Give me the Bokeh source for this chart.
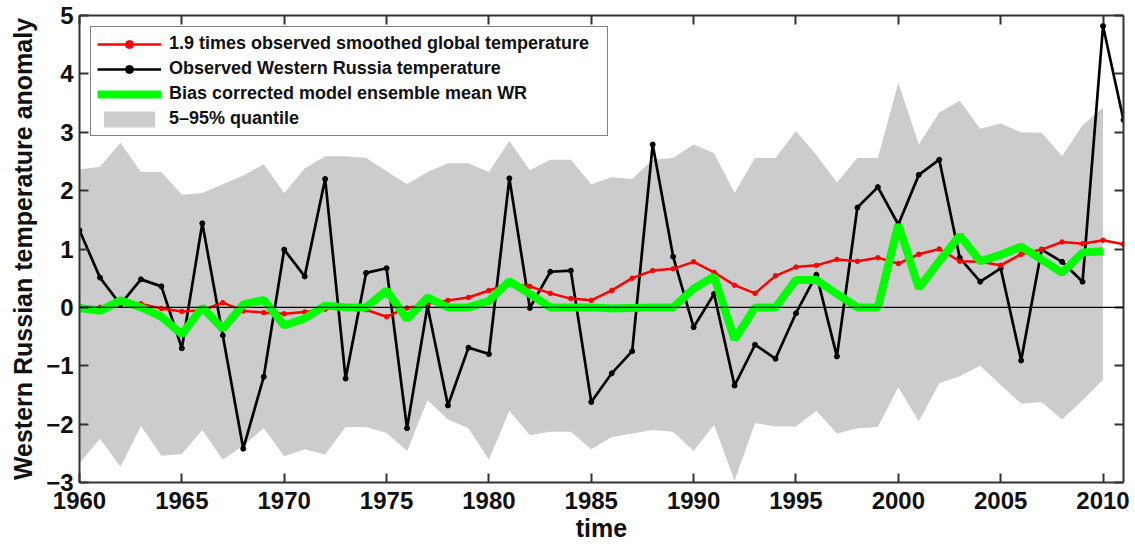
from bokeh.plotting import figure
from bokeh.models import (Range1d, LinearAxis, FixedTicker, Span, Legend, LegendItem,
                          ColumnDataSource, CustomJSTickFormatter)
from bokeh.embed import file_html
from bokeh.resources import INLINE

years_obs = list(range(1960, 2012))
years_mod = list(range(1960, 2011))

observed_wr = [1.32, 0.51, 0.05, 0.48, 0.36, -0.70, 1.44, -0.48, -2.42, -1.19,
               0.99, 0.53, 2.20, -1.22, 0.59, 0.67, -2.07, 0.02, -1.68, -0.69,
               -0.80, 2.21, -0.01, 0.61, 0.63, -1.62, -1.13, -0.75, 2.79, 0.87,
               -0.34, 0.23, -1.34, -0.64, -0.88, -0.10, 0.56, -0.84, 1.71, 2.06,
               1.42, 2.27, 2.53, 0.85, 0.44, 0.67, -0.91, 0.99, 0.78, 0.44,
               4.82, 3.21]

global_19 = [0.02, 0.00, 0.08, 0.06, -0.02, -0.07, -0.05, 0.08, -0.06, -0.09,
             -0.11, -0.08, -0.03, 0.00, -0.04, -0.16, -0.01, 0.06, 0.12, 0.17,
             0.29, 0.40, 0.36, 0.24, 0.15, 0.12, 0.29, 0.50, 0.63, 0.66,
             0.78, 0.60, 0.38, 0.24, 0.54, 0.69, 0.72, 0.82, 0.79, 0.85,
             0.75, 0.91, 1.00, 0.79, 0.78, 0.72, 0.91, 0.99, 1.12, 1.09,
             1.15, 1.08]

model_mean = [-0.01, -0.06, 0.12, 0.00, -0.16, -0.46, 0.00, -0.37, 0.05, 0.13,
              -0.31, -0.19, 0.03, 0.00, 0.00, 0.29, -0.20, 0.17, 0.00, 0.00,
              0.11, 0.45, 0.23, 0.00, 0.00, 0.00, -0.02, -0.01, 0.00, 0.00,
              0.32, 0.53, -0.55, 0.00, 0.00, 0.47, 0.47, 0.23, 0.00, 0.00,
              1.42, 0.33, 0.79, 1.23, 0.79, 0.90, 1.04, 0.82, 0.59, 0.94,
              0.96]

q95 = [2.36, 2.41, 2.82, 2.32, 2.32, 1.93, 1.96, 2.11, 2.26, 2.45,
       1.96, 2.38, 2.59, 2.59, 2.56, 2.33, 2.11, 2.32, 2.47, 2.47,
       2.32, 2.85, 2.35, 2.53, 2.53, 2.11, 2.23, 2.20, 2.53, 2.56,
       2.79, 2.64, 1.96, 2.56, 2.56, 3.02, 2.61, 2.14, 2.56, 2.56,
       3.85, 2.79, 3.34, 3.54, 3.06, 3.15, 3.00, 2.99, 2.59, 3.12,
       3.42]

q05 = [-2.67, -2.25, -2.73, -2.03, -2.54, -2.51, -2.10, -2.61, -2.37, -2.07,
       -2.55, -2.43, -2.52, -2.05, -2.05, -2.15, -2.46, -1.59, -1.92, -2.07,
       -2.61, -1.77, -2.19, -2.13, -2.13, -2.43, -2.22, -2.16, -2.10, -2.13,
       -2.46, -2.01, -2.97, -1.98, -2.04, -2.04, -1.77, -2.16, -2.07, -2.05,
       -1.37, -1.95, -1.30, -1.18, -1.00, -1.33, -1.65, -1.62, -1.92, -1.59,
       -1.24]

x_ticks = [1960, 1965, 1970, 1975, 1980, 1985, 1990, 1995, 2000, 2005, 2010]
y_ticks = [-3, -2, -1, 0, 1, 2, 3, 4, 5]

FONT = "Liberation Sans"
AX_COLOR = "#333333"

p = figure(width=1135, height=546, output_backend="svg", toolbar_location=None,
           x_range=Range1d(1960, 2011), y_range=Range1d(-3, 5),
           min_border_left=79, min_border_right=12, min_border_top=15, min_border_bottom=64,
           x_axis_label="time", y_axis_label="Western Russian temperature anomaly")
p.grid.visible = False
p.outline_line_color = None
p.background_fill_color = "white"

def style_axis(ax, ticks, show_labels=True):
    ax.ticker = FixedTicker(ticks=ticks)
    ax.axis_line_color = AX_COLOR
    ax.axis_line_width = 2
    ax.major_tick_line_color = AX_COLOR
    ax.major_tick_line_width = 2
    ax.major_tick_in = 9
    ax.major_tick_out = 0
    ax.minor_tick_line_color = None
    if show_labels:
        ax.major_label_text_font = FONT
        ax.major_label_text_font_style = "bold"
        ax.major_label_text_font_size = "24px"
        ax.major_label_text_color = "#111111"
    else:
        ax.major_label_text_font_size = "0px"
        ax.major_label_standoff = 0
        ax.formatter = CustomJSTickFormatter(code="return ''")

style_axis(p.xaxis[0], x_ticks)
style_axis(p.yaxis[0], y_ticks)
p.xaxis[0].major_label_standoff = 9
p.yaxis[0].major_label_standoff = 6
for ax in (p.xaxis[0], p.yaxis[0]):
    ax.axis_label_text_font = FONT
    ax.axis_label_text_font_style = "bold"
    ax.axis_label_text_font_size = "25px"
    ax.axis_label_text_color = "#111111"
p.xaxis[0].axis_label_standoff = 2
p.yaxis[0].axis_label_standoff = 6

top_ax = LinearAxis()
style_axis(top_ax, x_ticks, show_labels=False)
p.add_layout(top_ax, "above")
right_ax = LinearAxis()
style_axis(right_ax, y_ticks, show_labels=False)
p.add_layout(right_ax, "right")

src_mod = ColumnDataSource(dict(x=years_mod, lo=q05, hi=q95, m=model_mean))
src_obs = ColumnDataSource(dict(x=years_obs, wr=observed_wr, g=global_19))

band = p.varea(x="x", y1="lo", y2="hi", source=src_mod, fill_color="#cccccc")
p.add_layout(Span(location=0, dimension="width", line_color="black", line_width=1.2))

blk_l = p.line("x", "wr", source=src_obs, line_color="black", line_width=2.7)
blk_m = p.scatter("x", "wr", source=src_obs, size=5, fill_color="black", line_color="black")
red_l = p.line("x", "g", source=src_obs, line_color="#ff0000", line_width=2.5)
red_m = p.scatter("x", "g", source=src_obs, size=4.5, fill_color="#ff0000", line_color="#ff0000")
grn = p.line("x", "m", source=src_mod, line_color="#00ff00", line_width=8)

legend = Legend(items=[
    LegendItem(label="1.9 times observed smoothed global temperature", renderers=[red_l, red_m]),
    LegendItem(label="Observed Western Russia temperature", renderers=[blk_l, blk_m]),
    LegendItem(label="Bias corrected model ensemble mean WR", renderers=[grn]),
    LegendItem(label="5\u201395% quantile", renderers=[band]),
], location="top_left")
legend.margin = 11
legend.padding = 6
legend.spacing = 4
legend.glyph_width = 64
legend.glyph_height = 20
legend.label_height = 20
legend.label_width = 432
legend.label_standoff = 8
legend.label_text_font = FONT
legend.label_text_font_style = "bold"
legend.label_text_font_size = "18px"
legend.label_text_color = "#111111"
legend.border_line_color = "black"
legend.border_line_width = 1.5
legend.background_fill_color = "white"
legend.background_fill_alpha = 1
p.add_layout(legend, "center")

open("out.html", "w").write(file_html(p, INLINE))
